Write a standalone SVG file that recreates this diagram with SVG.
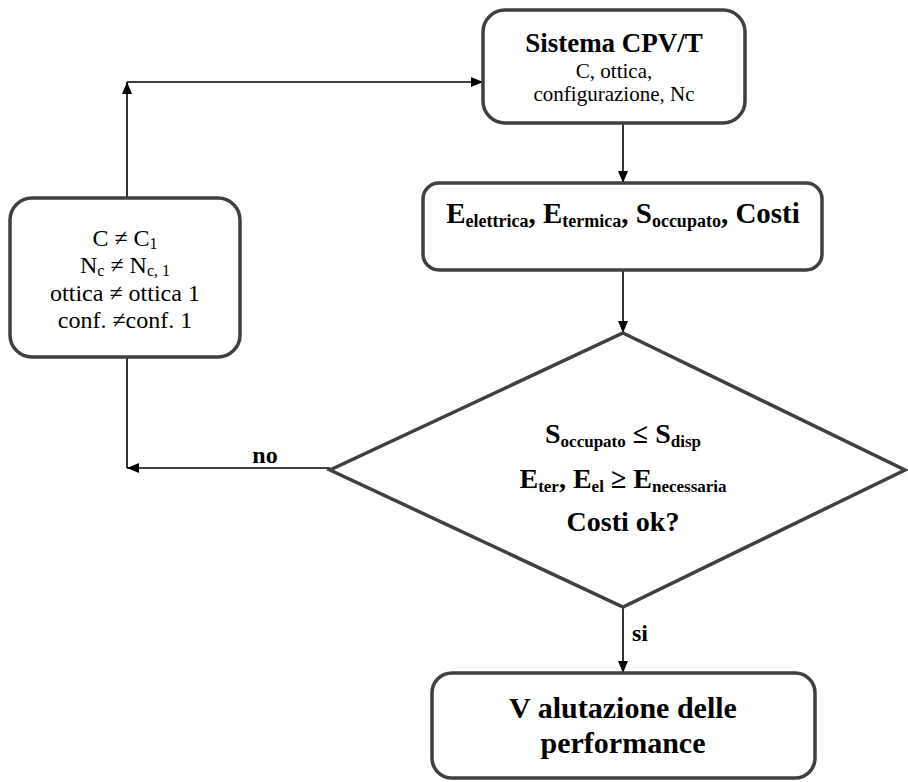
<svg xmlns="http://www.w3.org/2000/svg" width="908" height="782" viewBox="0 0 908 782">
<defs>
<style>
.box{fill:#fff;stroke:#404040;stroke-width:3.5}
.ln{fill:none;stroke:#000;stroke-width:1.6}
text{font-family:"Liberation Serif","Times New Roman","DejaVu Serif",serif;fill:#000;text-anchor:middle}
.b{font-weight:bold}
</style>
<marker id="ah" viewBox="0 0 12 10" refX="12" refY="5" markerWidth="12" markerHeight="10" markerUnits="userSpaceOnUse" orient="auto">
<path d="M0,0 L12,5 L0,10 Z" fill="#000"/>
</marker>
</defs>
<rect width="908" height="782" fill="#fff"/>
<g id="connectors">
<line class="ln" x1="623" y1="123" x2="623" y2="183" marker-end="url(#ah)"/>
<line class="ln" x1="623" y1="270" x2="623" y2="333" marker-end="url(#ah)"/>
<line class="ln" x1="623" y1="607" x2="623" y2="673" marker-end="url(#ah)"/>
<line class="ln" x1="330" y1="468" x2="127" y2="468" marker-end="url(#ah)"/>
<line class="ln" x1="127" y1="468" x2="127" y2="357"/>
<line class="ln" x1="127" y1="198" x2="127" y2="82" marker-end="url(#ah)"/>
<line class="ln" x1="127" y1="82" x2="483" y2="82" marker-end="url(#ah)"/>
<text class="b" x="265" y="463" font-size="24">no</text>
<text class="b" x="640" y="641" font-size="24">si</text>
</g>
<g id="sistema">
<rect class="box" x="483" y="10" width="262" height="113" rx="22"/>
<text class="b" x="614" y="52" font-size="27">Sistema CPV/T</text>
<text x="614" y="78" font-size="21">C, ottica,</text>
<text x="614" y="101" font-size="21">configurazione, Nc</text>
</g>
<g id="energie">
<rect class="box" x="423" y="183" width="399" height="87" rx="16"/>
<text class="b" x="623" y="223" font-size="29">E<tspan font-size="18" dy="4">elettrica</tspan><tspan dy="-4">, E</tspan><tspan font-size="18" dy="4">termica</tspan><tspan dy="-4">, S</tspan><tspan font-size="18" dy="4">occupato</tspan><tspan dy="-4">, Costi</tspan></text>
</g>
<g id="modifica">
<rect class="box" x="10" y="198" width="230" height="159" rx="22"/>
<text x="125" y="246" font-size="24">C ≠ C<tspan font-size="16" dy="3">1</tspan></text>
<text x="125" y="273" font-size="24">N<tspan font-size="16" dy="3">c</tspan><tspan dy="-3"> ≠ N</tspan><tspan font-size="16" dy="3">c, 1</tspan></text>
<text x="125" y="301" font-size="24">ottica ≠ ottica 1</text>
<text x="125" y="328" font-size="24">conf. ≠conf. 1</text>
</g>
<g id="decisione">
<polygon class="box" points="623,333 905,470 623,607 330,470"/>
<text class="b" x="623" y="443" font-size="28">S<tspan font-size="17" dy="4">occupato</tspan><tspan dy="-4"> ≤ S</tspan><tspan font-size="17" dy="4">disp</tspan></text>
<text class="b" x="623" y="488" font-size="28">E<tspan font-size="17" dy="4">ter</tspan><tspan dy="-4">, E</tspan><tspan font-size="17" dy="4">el</tspan><tspan dy="-4"> ≥ E</tspan><tspan font-size="17" dy="4">necessaria</tspan></text>
<text class="b" x="623" y="531" font-size="28">Costi ok?</text>
</g>
<g id="valutazione">
<rect class="box" x="432" y="673" width="383" height="105" rx="20"/>
<text class="b" x="623" y="718" font-size="30">V alutazione delle</text>
<text class="b" x="623" y="753" font-size="30">performance</text>
</g>
</svg>
